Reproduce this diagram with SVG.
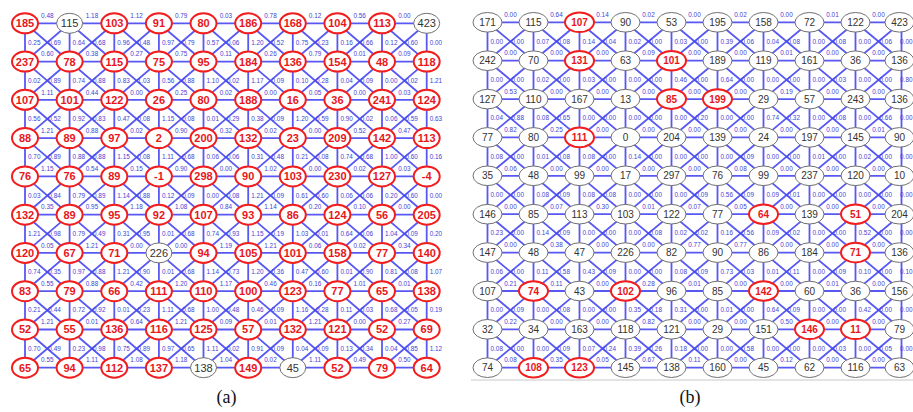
<svg xmlns="http://www.w3.org/2000/svg" width="913" height="412" viewBox="0 0 913 412">
<style>
.e{fill:none;stroke:#4646f2;stroke-width:1.8;stroke-opacity:0.9}
.n use{fill:#fff}
.ra use,.rb use{stroke:#f21d1d;stroke-width:2}
.ga use,.gb use{stroke:#707070;stroke-width:1}
.n text{font-family:"Liberation Sans",Arial,sans-serif;text-anchor:middle}
.ra text,.ga text{font-size:11px}
.rb text,.gb text{font-size:10px}
.ra text,.rb text{fill:#e8161b;font-weight:bold}
.ga text,.gb text{fill:#333}
.l{font-family:"Liberation Sans",Arial,sans-serif;font-size:6.4px;fill:#4343d6}
.h{text-anchor:middle}
.cap{font-family:"Liberation Serif","Times New Roman",serif;font-size:18px;fill:#111;text-anchor:middle}
</style>
<defs>
<ellipse id="ea" rx="13" ry="10"/>
<ellipse id="eb" rx="14.5" ry="9.8"/>
</defs>
<rect width="913" height="412" fill="#fff"/>
<line x1="471" y1="380" x2="913" y2="380" stroke="#c8c8c8" stroke-width="1"/>
<g id="connectors">
<path class="e" d="M25 23.3H426.7M25 61.6H426.7M25 99.8H426.7M25 138.1H426.7M25 176.4H426.7M25 214.7H426.7M25 252.9H426.7M25 291.2H426.7M25 329.5H426.7M25 367.7H426.7"/>
<path class="e" d="M25 23.3V367.7M69.6 23.3V367.7M114.3 23.3V367.7M158.9 23.3V367.7M203.5 23.3V367.7M248.2 23.3V367.7M292.8 23.3V367.7M337.4 23.3V367.7M382 23.3V367.7M426.7 23.3V367.7"/>
<path class="e" d="M25 23.3L426.7 367.7M69.6 23.3L426.7 329.5M114.3 23.3L426.7 291.2M158.9 23.3L426.7 252.9M203.5 23.3L426.7 214.7M248.2 23.3L426.7 176.4M292.8 23.3L426.7 138.1M337.4 23.3L426.7 99.8M382 23.3L426.7 61.6M25 61.6L382 367.7M25 99.8L337.4 367.7M25 138.1L292.8 367.7M25 176.4L248.2 367.7M25 214.7L203.5 367.7M25 252.9L158.9 367.7M25 291.2L114.3 367.7M25 329.5L69.6 367.7"/>
<path class="e" d="M69.6 23.3L25 61.6M114.3 23.3L25 99.8M158.9 23.3L25 138.1M203.5 23.3L25 176.4M248.2 23.3L25 214.7M292.8 23.3L25 252.9M337.4 23.3L25 291.2M382 23.3L25 329.5M426.7 23.3L25 367.7M426.7 61.6L69.6 367.7M426.7 99.8L114.3 367.7M426.7 138.1L158.9 367.7M426.7 176.4L203.5 367.7M426.7 214.7L248.2 367.7M426.7 252.9L292.8 367.7M426.7 291.2L337.4 367.7M426.7 329.5L382 367.7"/>
<path class="e" d="M487.5 22.3H901.5M487.5 60.7H901.5M487.5 99.1H901.5M487.5 137.4H901.5M487.5 175.8H901.5M487.5 214.2H901.5M487.5 252.6H901.5M487.5 291H901.5M487.5 329.3H901.5M487.5 367.7H901.5"/>
<path class="e" d="M487.5 22.3V367.7M533.5 22.3V367.7M579.5 22.3V367.7M625.5 22.3V367.7M671.5 22.3V367.7M717.5 22.3V367.7M763.5 22.3V367.7M809.5 22.3V367.7M855.5 22.3V367.7M901.5 22.3V367.7"/>
<path class="e" d="M487.5 22.3L901.5 367.7M533.5 22.3L901.5 329.3M579.5 22.3L901.5 291M625.5 22.3L901.5 252.6M671.5 22.3L901.5 214.2M717.5 22.3L901.5 175.8M763.5 22.3L901.5 137.4M809.5 22.3L901.5 99.1M855.5 22.3L901.5 60.7M487.5 60.7L855.5 367.7M487.5 99.1L809.5 367.7M487.5 137.4L763.5 367.7M487.5 175.8L717.5 367.7M487.5 214.2L671.5 367.7M487.5 252.6L625.5 367.7M487.5 291L579.5 367.7M487.5 329.3L533.5 367.7"/>
<path class="e" d="M533.5 22.3L487.5 60.7M579.5 22.3L487.5 99.1M625.5 22.3L487.5 137.4M671.5 22.3L487.5 175.8M717.5 22.3L487.5 214.2M763.5 22.3L487.5 252.6M809.5 22.3L487.5 291M855.5 22.3L487.5 329.3M901.5 22.3L487.5 367.7M901.5 60.7L533.5 367.7M901.5 99.1L579.5 367.7M901.5 137.4L625.5 367.7M901.5 175.8L671.5 367.7M901.5 214.2L717.5 367.7M901.5 252.6L763.5 367.7M901.5 291L809.5 367.7M901.5 329.3L855.5 367.7"/>
</g>
<g id="labels-a">
<text class="l h" y="18"><tspan x="47.3">0.48</tspan><tspan x="92">1.18</tspan><tspan x="136.6">1.12</tspan><tspan x="181.2">0.79</tspan><tspan x="225.9">0.03</tspan><tspan x="270.5">0.78</tspan><tspan x="315.1">0.12</tspan><tspan x="359.7">0.56</tspan><tspan x="404.4">0.00</tspan></text>
<text class="l h" y="56.3"><tspan x="47.3">0.60</tspan><tspan x="92">0.38</tspan><tspan x="136.6">0.27</tspan><tspan x="181.2">0.75</tspan><tspan x="225.9">0.11</tspan><tspan x="270.5">0.26</tspan><tspan x="315.1">0.79</tspan><tspan x="359.7">0.01</tspan><tspan x="404.4">0.09</tspan></text>
<text class="l h" y="94.5"><tspan x="47.3">1.11</tspan><tspan x="92">0.44</tspan><tspan x="136.6">0.00</tspan><tspan x="181.2">0.25</tspan><tspan x="225.9">0.02</tspan><tspan x="270.5">0.00</tspan><tspan x="315.1">0.05</tspan><tspan x="359.7">0.00</tspan><tspan x="404.4">0.03</tspan></text>
<text class="l h" y="132.8"><tspan x="47.3">1.21</tspan><tspan x="92">0.88</tspan><tspan x="136.6">0.02</tspan><tspan x="181.2">0.90</tspan><tspan x="225.9">0.32</tspan><tspan x="270.5">0.02</tspan><tspan x="315.1">0.00</tspan><tspan x="359.7">0.52</tspan><tspan x="404.4">0.47</tspan></text>
<text class="l h" y="171.1"><tspan x="47.3">1.15</tspan><tspan x="92">0.54</tspan><tspan x="136.6">0.15</tspan><tspan x="181.2">0.90</tspan><tspan x="225.9">0.00</tspan><tspan x="270.5">1.02</tspan><tspan x="315.1">0.00</tspan><tspan x="359.7">0.02</tspan><tspan x="404.4">0.03</tspan></text>
<text class="l h" y="209.4"><tspan x="47.3">0.35</tspan><tspan x="92">0.95</tspan><tspan x="136.6">1.18</tspan><tspan x="181.2">1.08</tspan><tspan x="225.9">0.84</tspan><tspan x="270.5">1.14</tspan><tspan x="315.1">0.20</tspan><tspan x="359.7">0.10</tspan><tspan x="404.4">0.00</tspan></text>
<text class="l h" y="247.6"><tspan x="47.3">0.05</tspan><tspan x="92">1.21</tspan><tspan x="136.6">0.00</tspan><tspan x="181.2">0.00</tspan><tspan x="225.9">1.19</tspan><tspan x="270.5">1.21</tspan><tspan x="315.1">0.06</tspan><tspan x="359.7">0.02</tspan><tspan x="404.4">0.34</tspan></text>
<text class="l h" y="285.9"><tspan x="47.3">0.55</tspan><tspan x="92">0.88</tspan><tspan x="136.6">0.42</tspan><tspan x="181.2">1.20</tspan><tspan x="225.9">1.17</tspan><tspan x="270.5">0.46</tspan><tspan x="315.1">0.16</tspan><tspan x="359.7">1.01</tspan><tspan x="404.4">0.01</tspan></text>
<text class="l h" y="324.2"><tspan x="47.3">1.21</tspan><tspan x="92">0.01</tspan><tspan x="136.6">0.64</tspan><tspan x="181.2">1.21</tspan><tspan x="225.9">0.09</tspan><tspan x="270.5">0.01</tspan><tspan x="315.1">1.21</tspan><tspan x="359.7">0.00</tspan><tspan x="404.4">0.27</tspan></text>
<text class="l h" y="362.4"><tspan x="47.3">0.55</tspan><tspan x="92">1.11</tspan><tspan x="136.6">1.08</tspan><tspan x="181.2">1.18</tspan><tspan x="225.9">1.04</tspan><tspan x="270.5">0.02</tspan><tspan x="315.1">1.11</tspan><tspan x="359.7">0.49</tspan><tspan x="404.4">0.50</tspan></text>
<text class="l" y="44.5"><tspan x="28">0.25</tspan><tspan x="48.3">0.69</tspan><tspan x="72.6">0.64</tspan><tspan x="93">0.68</tspan><tspan x="117.3">0.96</tspan><tspan x="137.6">0.48</tspan><tspan x="161.9">0.97</tspan><tspan x="182.2">0.79</tspan><tspan x="206.5">0.57</tspan><tspan x="226.9">0.06</tspan><tspan x="251.2">1.20</tspan><tspan x="271.5">0.52</tspan><tspan x="295.8">0.75</tspan><tspan x="316.1">0.23</tspan><tspan x="340.4">0.16</tspan><tspan x="360.7">0.66</tspan><tspan x="385">0.12</tspan><tspan x="405.4">0.60</tspan><tspan x="429.7">0.00</tspan></text>
<text class="l" y="82.7"><tspan x="28">0.02</tspan><tspan x="48.3">0.89</tspan><tspan x="72.6">0.74</tspan><tspan x="93">0.88</tspan><tspan x="117.3">0.83</tspan><tspan x="137.6">1.03</tspan><tspan x="161.9">0.56</tspan><tspan x="182.2">0.88</tspan><tspan x="206.5">1.10</tspan><tspan x="226.9">0.02</tspan><tspan x="251.2">1.17</tspan><tspan x="271.5">0.09</tspan><tspan x="295.8">0.10</tspan><tspan x="316.1">0.28</tspan><tspan x="340.4">0.04</tspan><tspan x="360.7">0.09</tspan><tspan x="385">0.00</tspan><tspan x="405.4">0.02</tspan><tspan x="429.7">1.21</tspan></text>
<text class="l" y="121"><tspan x="28">0.56</tspan><tspan x="48.3">0.52</tspan><tspan x="72.6">0.92</tspan><tspan x="93">0.83</tspan><tspan x="117.3">0.47</tspan><tspan x="137.6">0.08</tspan><tspan x="161.9">1.15</tspan><tspan x="182.2">0.08</tspan><tspan x="206.5">0.01</tspan><tspan x="226.9">0.29</tspan><tspan x="251.2">0.38</tspan><tspan x="271.5">0.09</tspan><tspan x="295.8">1.20</tspan><tspan x="316.1">0.59</tspan><tspan x="340.4">0.90</tspan><tspan x="360.7">0.02</tspan><tspan x="385">0.06</tspan><tspan x="405.4">0.59</tspan><tspan x="429.7">0.63</tspan></text>
<text class="l" y="159.3"><tspan x="28">0.70</tspan><tspan x="48.3">0.89</tspan><tspan x="72.6">0.88</tspan><tspan x="93">0.88</tspan><tspan x="117.3">1.15</tspan><tspan x="137.6">0.08</tspan><tspan x="161.9">1.11</tspan><tspan x="182.2">0.68</tspan><tspan x="206.5">0.06</tspan><tspan x="226.9">0.06</tspan><tspan x="251.2">0.31</tspan><tspan x="271.5">0.48</tspan><tspan x="295.8">0.21</tspan><tspan x="316.1">0.08</tspan><tspan x="340.4">0.74</tspan><tspan x="360.7">0.68</tspan><tspan x="385">1.00</tspan><tspan x="405.4">0.60</tspan><tspan x="429.7">0.16</tspan></text>
<text class="l" y="197.6"><tspan x="28">0.03</tspan><tspan x="48.3">0.84</tspan><tspan x="72.6">0.79</tspan><tspan x="93">0.89</tspan><tspan x="117.3">1.14</tspan><tspan x="137.6">0.88</tspan><tspan x="161.9">0.12</tspan><tspan x="182.2">0.09</tspan><tspan x="206.5">0.00</tspan><tspan x="226.9">0.08</tspan><tspan x="251.2">1.21</tspan><tspan x="271.5">0.09</tspan><tspan x="295.8">0.61</tspan><tspan x="316.1">0.60</tspan><tspan x="340.4">0.06</tspan><tspan x="360.7">0.06</tspan><tspan x="385">0.20</tspan><tspan x="405.4">0.60</tspan><tspan x="429.7">0.00</tspan></text>
<text class="l" y="235.8"><tspan x="28">1.21</tspan><tspan x="48.3">0.98</tspan><tspan x="72.6">0.79</tspan><tspan x="93">0.49</tspan><tspan x="117.3">0.31</tspan><tspan x="137.6">0.95</tspan><tspan x="161.9">0.01</tspan><tspan x="182.2">0.68</tspan><tspan x="206.5">0.74</tspan><tspan x="226.9">0.93</tspan><tspan x="251.2">1.15</tspan><tspan x="271.5">0.19</tspan><tspan x="295.8">1.03</tspan><tspan x="316.1">0.01</tspan><tspan x="340.4">0.64</tspan><tspan x="360.7">0.06</tspan><tspan x="385">1.04</tspan><tspan x="405.4">0.09</tspan><tspan x="429.7">0.20</tspan></text>
<text class="l" y="274"><tspan x="28">0.74</tspan><tspan x="48.3">0.35</tspan><tspan x="72.6">0.97</tspan><tspan x="93">0.88</tspan><tspan x="117.3">1.21</tspan><tspan x="137.6">0.90</tspan><tspan x="161.9">0.01</tspan><tspan x="182.2">0.68</tspan><tspan x="206.5">1.14</tspan><tspan x="226.9">0.73</tspan><tspan x="251.2">1.20</tspan><tspan x="271.5">0.36</tspan><tspan x="295.8">0.47</tspan><tspan x="316.1">0.60</tspan><tspan x="340.4">0.01</tspan><tspan x="360.7">0.90</tspan><tspan x="385">0.81</tspan><tspan x="405.4">0.08</tspan><tspan x="429.7">1.07</tspan></text>
<text class="l" y="312.4"><tspan x="28">0.21</tspan><tspan x="48.3">0.44</tspan><tspan x="72.6">0.72</tspan><tspan x="93">0.92</tspan><tspan x="117.3">0.01</tspan><tspan x="137.6">0.23</tspan><tspan x="161.9">1.11</tspan><tspan x="182.2">0.68</tspan><tspan x="206.5">1.00</tspan><tspan x="226.9">0.48</tspan><tspan x="251.2">0.46</tspan><tspan x="271.5">0.09</tspan><tspan x="295.8">1.16</tspan><tspan x="316.1">0.28</tspan><tspan x="340.4">0.11</tspan><tspan x="360.7">0.03</tspan><tspan x="385">0.68</tspan><tspan x="405.4">0.05</tspan><tspan x="429.7">0.19</tspan></text>
<text class="l" y="350.6"><tspan x="28">0.70</tspan><tspan x="48.3">0.49</tspan><tspan x="72.6">0.23</tspan><tspan x="93">0.98</tspan><tspan x="117.3">0.75</tspan><tspan x="137.6">0.89</tspan><tspan x="161.9">0.97</tspan><tspan x="182.2">0.65</tspan><tspan x="206.5">1.11</tspan><tspan x="226.9">0.02</tspan><tspan x="251.2">0.91</tspan><tspan x="271.5">0.09</tspan><tspan x="295.8">0.04</tspan><tspan x="316.1">0.09</tspan><tspan x="340.4">0.13</tspan><tspan x="360.7">0.34</tspan><tspan x="385">0.04</tspan><tspan x="405.4">0.85</tspan><tspan x="429.7">1.12</tspan></text>
</g>
<g id="labels-b">
<text class="l h" y="17"><tspan x="510.5">0.00</tspan><tspan x="556.5">0.64</tspan><tspan x="602.5">0.14</tspan><tspan x="648.5">0.02</tspan><tspan x="694.5">0.00</tspan><tspan x="740.5">0.02</tspan><tspan x="786.5">0.00</tspan><tspan x="832.5">0.01</tspan><tspan x="878.5">0.00</tspan></text>
<text class="l h" y="55.4"><tspan x="510.5">0.00</tspan><tspan x="556.5">0.00</tspan><tspan x="602.5">0.00</tspan><tspan x="648.5">0.09</tspan><tspan x="694.5">0.00</tspan><tspan x="740.5">0.00</tspan><tspan x="786.5">0.01</tspan><tspan x="832.5">0.00</tspan><tspan x="878.5">0.00</tspan></text>
<text class="l h" y="93.8"><tspan x="510.5">0.53</tspan><tspan x="556.5">0.00</tspan><tspan x="602.5">0.00</tspan><tspan x="648.5">0.00</tspan><tspan x="694.5">0.00</tspan><tspan x="740.5">0.00</tspan><tspan x="786.5">0.19</tspan><tspan x="832.5">0.00</tspan><tspan x="878.5">0.00</tspan></text>
<text class="l h" y="132.1"><tspan x="510.5">0.82</tspan><tspan x="556.5">0.25</tspan><tspan x="602.5">0.00</tspan><tspan x="648.5">0.00</tspan><tspan x="694.5">0.00</tspan><tspan x="740.5">0.00</tspan><tspan x="786.5">0.00</tspan><tspan x="832.5">0.00</tspan><tspan x="878.5">0.01</tspan></text>
<text class="l h" y="170.5"><tspan x="510.5">0.06</tspan><tspan x="556.5">0.00</tspan><tspan x="602.5">0.00</tspan><tspan x="648.5">0.00</tspan><tspan x="694.5">0.00</tspan><tspan x="740.5">0.08</tspan><tspan x="786.5">0.00</tspan><tspan x="832.5">0.00</tspan><tspan x="878.5">0.00</tspan></text>
<text class="l h" y="208.9"><tspan x="510.5">0.00</tspan><tspan x="556.5">0.07</tspan><tspan x="602.5">0.30</tspan><tspan x="648.5">0.01</tspan><tspan x="694.5">0.07</tspan><tspan x="740.5">0.05</tspan><tspan x="786.5">0.00</tspan><tspan x="832.5">0.00</tspan><tspan x="878.5">0.00</tspan></text>
<text class="l h" y="247.3"><tspan x="510.5">0.00</tspan><tspan x="556.5">0.38</tspan><tspan x="602.5">0.00</tspan><tspan x="648.5">0.00</tspan><tspan x="694.5">0.77</tspan><tspan x="740.5">0.77</tspan><tspan x="786.5">0.00</tspan><tspan x="832.5">0.00</tspan><tspan x="878.5">0.00</tspan></text>
<text class="l h" y="285.7"><tspan x="510.5">0.21</tspan><tspan x="556.5">0.11</tspan><tspan x="602.5">0.00</tspan><tspan x="648.5">0.28</tspan><tspan x="694.5">0.01</tspan><tspan x="740.5">0.00</tspan><tspan x="786.5">0.00</tspan><tspan x="832.5">0.01</tspan><tspan x="878.5">0.00</tspan></text>
<text class="l h" y="324"><tspan x="510.5">0.22</tspan><tspan x="556.5">0.00</tspan><tspan x="602.5">0.00</tspan><tspan x="648.5">0.82</tspan><tspan x="694.5">0.00</tspan><tspan x="740.5">0.00</tspan><tspan x="786.5">0.50</tspan><tspan x="832.5">0.00</tspan><tspan x="878.5">0.00</tspan></text>
<text class="l h" y="362.4"><tspan x="510.5">0.08</tspan><tspan x="556.5">0.35</tspan><tspan x="602.5">0.05</tspan><tspan x="648.5">0.67</tspan><tspan x="694.5">0.11</tspan><tspan x="740.5">0.00</tspan><tspan x="786.5">0.12</tspan><tspan x="832.5">0.00</tspan><tspan x="878.5">0.00</tspan></text>
<text class="l" y="43.5"><tspan x="490.5">0.00</tspan><tspan x="511.5">0.00</tspan><tspan x="536.5">0.07</tspan><tspan x="557.5">0.08</tspan><tspan x="582.5">0.14</tspan><tspan x="603.5">0.04</tspan><tspan x="628.5">0.02</tspan><tspan x="649.5">0.00</tspan><tspan x="674.5">0.03</tspan><tspan x="695.5">0.00</tspan><tspan x="720.5">0.39</tspan><tspan x="741.5">0.06</tspan><tspan x="766.5">0.04</tspan><tspan x="787.5">0.08</tspan><tspan x="812.5">0.00</tspan><tspan x="833.5">0.08</tspan><tspan x="858.5">0.00</tspan><tspan x="879.5">0.06</tspan></text>
<text class="l" y="81.9"><tspan x="490.5">0.00</tspan><tspan x="511.5">0.00</tspan><tspan x="536.5">0.02</tspan><tspan x="557.5">0.00</tspan><tspan x="582.5">0.03</tspan><tspan x="603.5">0.00</tspan><tspan x="628.5">0.00</tspan><tspan x="649.5">0.00</tspan><tspan x="674.5">0.46</tspan><tspan x="695.5">0.00</tspan><tspan x="720.5">0.64</tspan><tspan x="741.5">0.00</tspan><tspan x="766.5">0.00</tspan><tspan x="787.5">0.00</tspan><tspan x="812.5">0.00</tspan><tspan x="833.5">0.03</tspan><tspan x="858.5">0.00</tspan><tspan x="879.5">0.00</tspan></text>
<text class="l" y="120.3"><tspan x="490.5">0.04</tspan><tspan x="511.5">0.88</tspan><tspan x="536.5">0.08</tspan><tspan x="557.5">0.65</tspan><tspan x="582.5">0.00</tspan><tspan x="603.5">0.00</tspan><tspan x="628.5">0.00</tspan><tspan x="649.5">0.00</tspan><tspan x="674.5">0.00</tspan><tspan x="695.5">0.20</tspan><tspan x="720.5">0.00</tspan><tspan x="741.5">0.00</tspan><tspan x="766.5">0.74</tspan><tspan x="787.5">0.32</tspan><tspan x="812.5">0.00</tspan><tspan x="833.5">0.08</tspan><tspan x="858.5">0.00</tspan><tspan x="879.5">0.66</tspan></text>
<text class="l" y="158.6"><tspan x="490.5">0.08</tspan><tspan x="511.5">0.00</tspan><tspan x="536.5">0.01</tspan><tspan x="557.5">0.08</tspan><tspan x="582.5">0.08</tspan><tspan x="603.5">0.00</tspan><tspan x="628.5">0.14</tspan><tspan x="649.5">0.00</tspan><tspan x="674.5">0.00</tspan><tspan x="695.5">0.00</tspan><tspan x="720.5">0.00</tspan><tspan x="741.5">0.09</tspan><tspan x="766.5">0.00</tspan><tspan x="787.5">0.00</tspan><tspan x="812.5">0.01</tspan><tspan x="833.5">0.00</tspan><tspan x="858.5">0.02</tspan><tspan x="879.5">0.00</tspan></text>
<text class="l" y="197"><tspan x="490.5">0.00</tspan><tspan x="511.5">0.00</tspan><tspan x="536.5">0.08</tspan><tspan x="557.5">0.09</tspan><tspan x="582.5">0.08</tspan><tspan x="603.5">0.08</tspan><tspan x="628.5">0.00</tspan><tspan x="649.5">0.00</tspan><tspan x="674.5">0.00</tspan><tspan x="695.5">0.09</tspan><tspan x="720.5">0.56</tspan><tspan x="741.5">0.09</tspan><tspan x="766.5">0.09</tspan><tspan x="787.5">0.01</tspan><tspan x="812.5">0.00</tspan><tspan x="833.5">0.00</tspan><tspan x="858.5">0.00</tspan><tspan x="879.5">0.00</tspan></text>
<text class="l" y="235.4"><tspan x="490.5">0.23</tspan><tspan x="511.5">0.00</tspan><tspan x="536.5">0.14</tspan><tspan x="557.5">0.09</tspan><tspan x="582.5">0.00</tspan><tspan x="603.5">0.00</tspan><tspan x="628.5">0.00</tspan><tspan x="649.5">0.08</tspan><tspan x="674.5">0.02</tspan><tspan x="695.5">0.02</tspan><tspan x="720.5">0.16</tspan><tspan x="741.5">0.56</tspan><tspan x="766.5">0.09</tspan><tspan x="787.5">0.02</tspan><tspan x="812.5">0.00</tspan><tspan x="833.5">0.00</tspan><tspan x="858.5">0.52</tspan><tspan x="879.5">0.00</tspan></text>
<text class="l" y="273.8"><tspan x="490.5">0.06</tspan><tspan x="511.5">0.00</tspan><tspan x="536.5">0.11</tspan><tspan x="557.5">0.58</tspan><tspan x="582.5">0.43</tspan><tspan x="603.5">0.09</tspan><tspan x="628.5">0.00</tspan><tspan x="649.5">0.00</tspan><tspan x="674.5">0.08</tspan><tspan x="695.5">0.09</tspan><tspan x="720.5">0.73</tspan><tspan x="741.5">0.03</tspan><tspan x="766.5">0.01</tspan><tspan x="787.5">0.11</tspan><tspan x="812.5">0.00</tspan><tspan x="833.5">0.09</tspan><tspan x="858.5">0.10</tspan><tspan x="879.5">0.00</tspan></text>
<text class="l" y="312.2"><tspan x="490.5">0.00</tspan><tspan x="511.5">0.09</tspan><tspan x="536.5">0.00</tspan><tspan x="557.5">0.08</tspan><tspan x="582.5">0.00</tspan><tspan x="603.5">0.00</tspan><tspan x="628.5">0.35</tspan><tspan x="649.5">0.18</tspan><tspan x="674.5">0.31</tspan><tspan x="695.5">0.00</tspan><tspan x="720.5">0.01</tspan><tspan x="741.5">0.00</tspan><tspan x="766.5">0.64</tspan><tspan x="787.5">0.09</tspan><tspan x="812.5">0.00</tspan><tspan x="833.5">0.00</tspan><tspan x="858.5">0.42</tspan><tspan x="879.5">0.00</tspan></text>
<text class="l" y="350.5"><tspan x="490.5">0.08</tspan><tspan x="511.5">0.00</tspan><tspan x="536.5">0.00</tspan><tspan x="557.5">0.09</tspan><tspan x="582.5">0.07</tspan><tspan x="603.5">0.24</tspan><tspan x="628.5">0.39</tspan><tspan x="649.5">0.26</tspan><tspan x="674.5">0.18</tspan><tspan x="695.5">0.00</tspan><tspan x="720.5">0.00</tspan><tspan x="741.5">0.58</tspan><tspan x="766.5">0.00</tspan><tspan x="787.5">0.00</tspan><tspan x="812.5">0.00</tspan><tspan x="833.5">0.03</tspan><tspan x="858.5">0.00</tspan><tspan x="879.5">0.05</tspan></text>
<text class="l" text-anchor="end" x="912.5"><tspan x="912.5" y="43.5">0.00</tspan><tspan x="912.5" y="81.9">0.80</tspan><tspan x="912.5" y="120.3">0.00</tspan><tspan x="912.5" y="158.6">0.00</tspan><tspan x="912.5" y="197">0.00</tspan><tspan x="912.5" y="235.4">0.00</tspan><tspan x="912.5" y="273.8">0.10</tspan><tspan x="912.5" y="312.2">0.00</tspan><tspan x="912.5" y="350.5">0.00</tspan></text>
</g>
<g id="nodes-a">
<g id="a0-0" class="n ra" transform="translate(25 23.3)"><use href="#ea"/><text y="3.9">185</text></g>
<g id="a0-1" class="n ga" transform="translate(69.6 23.3)"><use href="#ea"/><text y="3.9">115</text></g>
<g id="a0-2" class="n ra" transform="translate(114.3 23.3)"><use href="#ea"/><text y="3.9">103</text></g>
<g id="a0-3" class="n ra" transform="translate(158.9 23.3)"><use href="#ea"/><text y="3.9">91</text></g>
<g id="a0-4" class="n ra" transform="translate(203.5 23.3)"><use href="#ea"/><text y="3.9">80</text></g>
<g id="a0-5" class="n ra" transform="translate(248.2 23.3)"><use href="#ea"/><text y="3.9">186</text></g>
<g id="a0-6" class="n ra" transform="translate(292.8 23.3)"><use href="#ea"/><text y="3.9">168</text></g>
<g id="a0-7" class="n ra" transform="translate(337.4 23.3)"><use href="#ea"/><text y="3.9">104</text></g>
<g id="a0-8" class="n ra" transform="translate(382 23.3)"><use href="#ea"/><text y="3.9">113</text></g>
<g id="a0-9" class="n ga" transform="translate(426.7 23.3)"><use href="#ea"/><text y="3.9">423</text></g>
<g id="a1-0" class="n ra" transform="translate(25 61.6)"><use href="#ea"/><text y="3.9">237</text></g>
<g id="a1-1" class="n ra" transform="translate(69.6 61.6)"><use href="#ea"/><text y="3.9">78</text></g>
<g id="a1-2" class="n ra" transform="translate(114.3 61.6)"><use href="#ea"/><text y="3.9">115</text></g>
<g id="a1-3" class="n ra" transform="translate(158.9 61.6)"><use href="#ea"/><text y="3.9">75</text></g>
<g id="a1-4" class="n ra" transform="translate(203.5 61.6)"><use href="#ea"/><text y="3.9">95</text></g>
<g id="a1-5" class="n ra" transform="translate(248.2 61.6)"><use href="#ea"/><text y="3.9">184</text></g>
<g id="a1-6" class="n ra" transform="translate(292.8 61.6)"><use href="#ea"/><text y="3.9">136</text></g>
<g id="a1-7" class="n ra" transform="translate(337.4 61.6)"><use href="#ea"/><text y="3.9">154</text></g>
<g id="a1-8" class="n ra" transform="translate(382 61.6)"><use href="#ea"/><text y="3.9">48</text></g>
<g id="a1-9" class="n ra" transform="translate(426.7 61.6)"><use href="#ea"/><text y="3.9">118</text></g>
<g id="a2-0" class="n ra" transform="translate(25 99.8)"><use href="#ea"/><text y="3.9">107</text></g>
<g id="a2-1" class="n ra" transform="translate(69.6 99.8)"><use href="#ea"/><text y="3.9">101</text></g>
<g id="a2-2" class="n ra" transform="translate(114.3 99.8)"><use href="#ea"/><text y="3.9">122</text></g>
<g id="a2-3" class="n ra" transform="translate(158.9 99.8)"><use href="#ea"/><text y="3.9">26</text></g>
<g id="a2-4" class="n ra" transform="translate(203.5 99.8)"><use href="#ea"/><text y="3.9">80</text></g>
<g id="a2-5" class="n ra" transform="translate(248.2 99.8)"><use href="#ea"/><text y="3.9">188</text></g>
<g id="a2-6" class="n ra" transform="translate(292.8 99.8)"><use href="#ea"/><text y="3.9">16</text></g>
<g id="a2-7" class="n ra" transform="translate(337.4 99.8)"><use href="#ea"/><text y="3.9">36</text></g>
<g id="a2-8" class="n ra" transform="translate(382 99.8)"><use href="#ea"/><text y="3.9">241</text></g>
<g id="a2-9" class="n ra" transform="translate(426.7 99.8)"><use href="#ea"/><text y="3.9">124</text></g>
<g id="a3-0" class="n ra" transform="translate(25 138.1)"><use href="#ea"/><text y="3.9">88</text></g>
<g id="a3-1" class="n ra" transform="translate(69.6 138.1)"><use href="#ea"/><text y="3.9">89</text></g>
<g id="a3-2" class="n ra" transform="translate(114.3 138.1)"><use href="#ea"/><text y="3.9">97</text></g>
<g id="a3-3" class="n ra" transform="translate(158.9 138.1)"><use href="#ea"/><text y="3.9">2</text></g>
<g id="a3-4" class="n ra" transform="translate(203.5 138.1)"><use href="#ea"/><text y="3.9">200</text></g>
<g id="a3-5" class="n ra" transform="translate(248.2 138.1)"><use href="#ea"/><text y="3.9">132</text></g>
<g id="a3-6" class="n ra" transform="translate(292.8 138.1)"><use href="#ea"/><text y="3.9">23</text></g>
<g id="a3-7" class="n ra" transform="translate(337.4 138.1)"><use href="#ea"/><text y="3.9">209</text></g>
<g id="a3-8" class="n ra" transform="translate(382 138.1)"><use href="#ea"/><text y="3.9">142</text></g>
<g id="a3-9" class="n ra" transform="translate(426.7 138.1)"><use href="#ea"/><text y="3.9">113</text></g>
<g id="a4-0" class="n ra" transform="translate(25 176.4)"><use href="#ea"/><text y="3.9">76</text></g>
<g id="a4-1" class="n ra" transform="translate(69.6 176.4)"><use href="#ea"/><text y="3.9">76</text></g>
<g id="a4-2" class="n ra" transform="translate(114.3 176.4)"><use href="#ea"/><text y="3.9">89</text></g>
<g id="a4-3" class="n ra" transform="translate(158.9 176.4)"><use href="#ea"/><text y="3.9">-1</text></g>
<g id="a4-4" class="n ra" transform="translate(203.5 176.4)"><use href="#ea"/><text y="3.9">298</text></g>
<g id="a4-5" class="n ra" transform="translate(248.2 176.4)"><use href="#ea"/><text y="3.9">90</text></g>
<g id="a4-6" class="n ra" transform="translate(292.8 176.4)"><use href="#ea"/><text y="3.9">103</text></g>
<g id="a4-7" class="n ra" transform="translate(337.4 176.4)"><use href="#ea"/><text y="3.9">230</text></g>
<g id="a4-8" class="n ra" transform="translate(382 176.4)"><use href="#ea"/><text y="3.9">127</text></g>
<g id="a4-9" class="n ra" transform="translate(426.7 176.4)"><use href="#ea"/><text y="3.9">-4</text></g>
<g id="a5-0" class="n ra" transform="translate(25 214.7)"><use href="#ea"/><text y="3.9">132</text></g>
<g id="a5-1" class="n ra" transform="translate(69.6 214.7)"><use href="#ea"/><text y="3.9">89</text></g>
<g id="a5-2" class="n ra" transform="translate(114.3 214.7)"><use href="#ea"/><text y="3.9">95</text></g>
<g id="a5-3" class="n ra" transform="translate(158.9 214.7)"><use href="#ea"/><text y="3.9">92</text></g>
<g id="a5-4" class="n ra" transform="translate(203.5 214.7)"><use href="#ea"/><text y="3.9">107</text></g>
<g id="a5-5" class="n ra" transform="translate(248.2 214.7)"><use href="#ea"/><text y="3.9">93</text></g>
<g id="a5-6" class="n ra" transform="translate(292.8 214.7)"><use href="#ea"/><text y="3.9">86</text></g>
<g id="a5-7" class="n ra" transform="translate(337.4 214.7)"><use href="#ea"/><text y="3.9">124</text></g>
<g id="a5-8" class="n ra" transform="translate(382 214.7)"><use href="#ea"/><text y="3.9">56</text></g>
<g id="a5-9" class="n ra" transform="translate(426.7 214.7)"><use href="#ea"/><text y="3.9">205</text></g>
<g id="a6-0" class="n ra" transform="translate(25 252.9)"><use href="#ea"/><text y="3.9">120</text></g>
<g id="a6-1" class="n ra" transform="translate(69.6 252.9)"><use href="#ea"/><text y="3.9">67</text></g>
<g id="a6-2" class="n ra" transform="translate(114.3 252.9)"><use href="#ea"/><text y="3.9">71</text></g>
<g id="a6-3" class="n ga" transform="translate(158.9 252.9)"><use href="#ea"/><text y="3.9">226</text></g>
<g id="a6-4" class="n ra" transform="translate(203.5 252.9)"><use href="#ea"/><text y="3.9">94</text></g>
<g id="a6-5" class="n ra" transform="translate(248.2 252.9)"><use href="#ea"/><text y="3.9">105</text></g>
<g id="a6-6" class="n ra" transform="translate(292.8 252.9)"><use href="#ea"/><text y="3.9">101</text></g>
<g id="a6-7" class="n ra" transform="translate(337.4 252.9)"><use href="#ea"/><text y="3.9">158</text></g>
<g id="a6-8" class="n ra" transform="translate(382 252.9)"><use href="#ea"/><text y="3.9">77</text></g>
<g id="a6-9" class="n ra" transform="translate(426.7 252.9)"><use href="#ea"/><text y="3.9">140</text></g>
<g id="a7-0" class="n ra" transform="translate(25 291.2)"><use href="#ea"/><text y="3.9">83</text></g>
<g id="a7-1" class="n ra" transform="translate(69.6 291.2)"><use href="#ea"/><text y="3.9">79</text></g>
<g id="a7-2" class="n ra" transform="translate(114.3 291.2)"><use href="#ea"/><text y="3.9">66</text></g>
<g id="a7-3" class="n ra" transform="translate(158.9 291.2)"><use href="#ea"/><text y="3.9">111</text></g>
<g id="a7-4" class="n ra" transform="translate(203.5 291.2)"><use href="#ea"/><text y="3.9">110</text></g>
<g id="a7-5" class="n ra" transform="translate(248.2 291.2)"><use href="#ea"/><text y="3.9">100</text></g>
<g id="a7-6" class="n ra" transform="translate(292.8 291.2)"><use href="#ea"/><text y="3.9">123</text></g>
<g id="a7-7" class="n ra" transform="translate(337.4 291.2)"><use href="#ea"/><text y="3.9">77</text></g>
<g id="a7-8" class="n ra" transform="translate(382 291.2)"><use href="#ea"/><text y="3.9">65</text></g>
<g id="a7-9" class="n ra" transform="translate(426.7 291.2)"><use href="#ea"/><text y="3.9">138</text></g>
<g id="a8-0" class="n ra" transform="translate(25 329.5)"><use href="#ea"/><text y="3.9">52</text></g>
<g id="a8-1" class="n ra" transform="translate(69.6 329.5)"><use href="#ea"/><text y="3.9">55</text></g>
<g id="a8-2" class="n ra" transform="translate(114.3 329.5)"><use href="#ea"/><text y="3.9">136</text></g>
<g id="a8-3" class="n ra" transform="translate(158.9 329.5)"><use href="#ea"/><text y="3.9">116</text></g>
<g id="a8-4" class="n ra" transform="translate(203.5 329.5)"><use href="#ea"/><text y="3.9">125</text></g>
<g id="a8-5" class="n ra" transform="translate(248.2 329.5)"><use href="#ea"/><text y="3.9">57</text></g>
<g id="a8-6" class="n ra" transform="translate(292.8 329.5)"><use href="#ea"/><text y="3.9">132</text></g>
<g id="a8-7" class="n ra" transform="translate(337.4 329.5)"><use href="#ea"/><text y="3.9">121</text></g>
<g id="a8-8" class="n ra" transform="translate(382 329.5)"><use href="#ea"/><text y="3.9">52</text></g>
<g id="a8-9" class="n ra" transform="translate(426.7 329.5)"><use href="#ea"/><text y="3.9">69</text></g>
<g id="a9-0" class="n ra" transform="translate(25 367.7)"><use href="#ea"/><text y="3.9">65</text></g>
<g id="a9-1" class="n ra" transform="translate(69.6 367.7)"><use href="#ea"/><text y="3.9">94</text></g>
<g id="a9-2" class="n ra" transform="translate(114.3 367.7)"><use href="#ea"/><text y="3.9">112</text></g>
<g id="a9-3" class="n ra" transform="translate(158.9 367.7)"><use href="#ea"/><text y="3.9">137</text></g>
<g id="a9-4" class="n ga" transform="translate(203.5 367.7)"><use href="#ea"/><text y="3.9">138</text></g>
<g id="a9-5" class="n ra" transform="translate(248.2 367.7)"><use href="#ea"/><text y="3.9">149</text></g>
<g id="a9-6" class="n ga" transform="translate(292.8 367.7)"><use href="#ea"/><text y="3.9">45</text></g>
<g id="a9-7" class="n ra" transform="translate(337.4 367.7)"><use href="#ea"/><text y="3.9">52</text></g>
<g id="a9-8" class="n ra" transform="translate(382 367.7)"><use href="#ea"/><text y="3.9">79</text></g>
<g id="a9-9" class="n ra" transform="translate(426.7 367.7)"><use href="#ea"/><text y="3.9">64</text></g>
</g>
<g id="nodes-b">
<g id="b0-0" class="n gb" transform="translate(487.5 22.3)"><use href="#eb"/><text y="3.6">171</text></g>
<g id="b0-1" class="n gb" transform="translate(533.5 22.3)"><use href="#eb"/><text y="3.6">115</text></g>
<g id="b0-2" class="n rb" transform="translate(579.5 22.3)"><use href="#eb"/><text y="3.6">107</text></g>
<g id="b0-3" class="n gb" transform="translate(625.5 22.3)"><use href="#eb"/><text y="3.6">90</text></g>
<g id="b0-4" class="n gb" transform="translate(671.5 22.3)"><use href="#eb"/><text y="3.6">53</text></g>
<g id="b0-5" class="n gb" transform="translate(717.5 22.3)"><use href="#eb"/><text y="3.6">195</text></g>
<g id="b0-6" class="n gb" transform="translate(763.5 22.3)"><use href="#eb"/><text y="3.6">158</text></g>
<g id="b0-7" class="n gb" transform="translate(809.5 22.3)"><use href="#eb"/><text y="3.6">72</text></g>
<g id="b0-8" class="n gb" transform="translate(855.5 22.3)"><use href="#eb"/><text y="3.6">122</text></g>
<g id="b0-9" class="n gb" transform="translate(899.5 22.3)"><use href="#eb"/><text y="3.6">423</text></g>
<g id="b1-0" class="n gb" transform="translate(487.5 60.7)"><use href="#eb"/><text y="3.6">242</text></g>
<g id="b1-1" class="n gb" transform="translate(533.5 60.7)"><use href="#eb"/><text y="3.6">70</text></g>
<g id="b1-2" class="n rb" transform="translate(579.5 60.7)"><use href="#eb"/><text y="3.6">131</text></g>
<g id="b1-3" class="n gb" transform="translate(625.5 60.7)"><use href="#eb"/><text y="3.6">63</text></g>
<g id="b1-4" class="n rb" transform="translate(671.5 60.7)"><use href="#eb"/><text y="3.6">101</text></g>
<g id="b1-5" class="n gb" transform="translate(717.5 60.7)"><use href="#eb"/><text y="3.6">189</text></g>
<g id="b1-6" class="n gb" transform="translate(763.5 60.7)"><use href="#eb"/><text y="3.6">119</text></g>
<g id="b1-7" class="n gb" transform="translate(809.5 60.7)"><use href="#eb"/><text y="3.6">161</text></g>
<g id="b1-8" class="n gb" transform="translate(855.5 60.7)"><use href="#eb"/><text y="3.6">36</text></g>
<g id="b1-9" class="n gb" transform="translate(899.5 60.7)"><use href="#eb"/><text y="3.6">136</text></g>
<g id="b2-0" class="n gb" transform="translate(487.5 99.1)"><use href="#eb"/><text y="3.6">127</text></g>
<g id="b2-1" class="n gb" transform="translate(533.5 99.1)"><use href="#eb"/><text y="3.6">110</text></g>
<g id="b2-2" class="n gb" transform="translate(579.5 99.1)"><use href="#eb"/><text y="3.6">167</text></g>
<g id="b2-3" class="n gb" transform="translate(625.5 99.1)"><use href="#eb"/><text y="3.6">13</text></g>
<g id="b2-4" class="n rb" transform="translate(671.5 99.1)"><use href="#eb"/><text y="3.6">85</text></g>
<g id="b2-5" class="n rb" transform="translate(717.5 99.1)"><use href="#eb"/><text y="3.6">199</text></g>
<g id="b2-6" class="n gb" transform="translate(763.5 99.1)"><use href="#eb"/><text y="3.6">29</text></g>
<g id="b2-7" class="n gb" transform="translate(809.5 99.1)"><use href="#eb"/><text y="3.6">57</text></g>
<g id="b2-8" class="n gb" transform="translate(855.5 99.1)"><use href="#eb"/><text y="3.6">243</text></g>
<g id="b2-9" class="n gb" transform="translate(899.5 99.1)"><use href="#eb"/><text y="3.6">136</text></g>
<g id="b3-0" class="n gb" transform="translate(487.5 137.4)"><use href="#eb"/><text y="3.6">77</text></g>
<g id="b3-1" class="n gb" transform="translate(533.5 137.4)"><use href="#eb"/><text y="3.6">80</text></g>
<g id="b3-2" class="n rb" transform="translate(579.5 137.4)"><use href="#eb"/><text y="3.6">111</text></g>
<g id="b3-3" class="n gb" transform="translate(625.5 137.4)"><use href="#eb"/><text y="3.6">0</text></g>
<g id="b3-4" class="n gb" transform="translate(671.5 137.4)"><use href="#eb"/><text y="3.6">204</text></g>
<g id="b3-5" class="n gb" transform="translate(717.5 137.4)"><use href="#eb"/><text y="3.6">139</text></g>
<g id="b3-6" class="n gb" transform="translate(763.5 137.4)"><use href="#eb"/><text y="3.6">24</text></g>
<g id="b3-7" class="n gb" transform="translate(809.5 137.4)"><use href="#eb"/><text y="3.6">197</text></g>
<g id="b3-8" class="n gb" transform="translate(855.5 137.4)"><use href="#eb"/><text y="3.6">145</text></g>
<g id="b3-9" class="n gb" transform="translate(899.5 137.4)"><use href="#eb"/><text y="3.6">90</text></g>
<g id="b4-0" class="n gb" transform="translate(487.5 175.8)"><use href="#eb"/><text y="3.6">35</text></g>
<g id="b4-1" class="n gb" transform="translate(533.5 175.8)"><use href="#eb"/><text y="3.6">48</text></g>
<g id="b4-2" class="n gb" transform="translate(579.5 175.8)"><use href="#eb"/><text y="3.6">99</text></g>
<g id="b4-3" class="n gb" transform="translate(625.5 175.8)"><use href="#eb"/><text y="3.6">17</text></g>
<g id="b4-4" class="n gb" transform="translate(671.5 175.8)"><use href="#eb"/><text y="3.6">297</text></g>
<g id="b4-5" class="n gb" transform="translate(717.5 175.8)"><use href="#eb"/><text y="3.6">76</text></g>
<g id="b4-6" class="n gb" transform="translate(763.5 175.8)"><use href="#eb"/><text y="3.6">99</text></g>
<g id="b4-7" class="n gb" transform="translate(809.5 175.8)"><use href="#eb"/><text y="3.6">237</text></g>
<g id="b4-8" class="n gb" transform="translate(855.5 175.8)"><use href="#eb"/><text y="3.6">120</text></g>
<g id="b4-9" class="n gb" transform="translate(899.5 175.8)"><use href="#eb"/><text y="3.6">10</text></g>
<g id="b5-0" class="n gb" transform="translate(487.5 214.2)"><use href="#eb"/><text y="3.6">146</text></g>
<g id="b5-1" class="n gb" transform="translate(533.5 214.2)"><use href="#eb"/><text y="3.6">85</text></g>
<g id="b5-2" class="n gb" transform="translate(579.5 214.2)"><use href="#eb"/><text y="3.6">113</text></g>
<g id="b5-3" class="n gb" transform="translate(625.5 214.2)"><use href="#eb"/><text y="3.6">103</text></g>
<g id="b5-4" class="n gb" transform="translate(671.5 214.2)"><use href="#eb"/><text y="3.6">122</text></g>
<g id="b5-5" class="n gb" transform="translate(717.5 214.2)"><use href="#eb"/><text y="3.6">77</text></g>
<g id="b5-6" class="n rb" transform="translate(763.5 214.2)"><use href="#eb"/><text y="3.6">64</text></g>
<g id="b5-7" class="n gb" transform="translate(809.5 214.2)"><use href="#eb"/><text y="3.6">139</text></g>
<g id="b5-8" class="n rb" transform="translate(855.5 214.2)"><use href="#eb"/><text y="3.6">51</text></g>
<g id="b5-9" class="n gb" transform="translate(899.5 214.2)"><use href="#eb"/><text y="3.6">204</text></g>
<g id="b6-0" class="n gb" transform="translate(487.5 252.6)"><use href="#eb"/><text y="3.6">147</text></g>
<g id="b6-1" class="n gb" transform="translate(533.5 252.6)"><use href="#eb"/><text y="3.6">48</text></g>
<g id="b6-2" class="n gb" transform="translate(579.5 252.6)"><use href="#eb"/><text y="3.6">47</text></g>
<g id="b6-3" class="n gb" transform="translate(625.5 252.6)"><use href="#eb"/><text y="3.6">226</text></g>
<g id="b6-4" class="n gb" transform="translate(671.5 252.6)"><use href="#eb"/><text y="3.6">82</text></g>
<g id="b6-5" class="n gb" transform="translate(717.5 252.6)"><use href="#eb"/><text y="3.6">90</text></g>
<g id="b6-6" class="n gb" transform="translate(763.5 252.6)"><use href="#eb"/><text y="3.6">86</text></g>
<g id="b6-7" class="n gb" transform="translate(809.5 252.6)"><use href="#eb"/><text y="3.6">184</text></g>
<g id="b6-8" class="n rb" transform="translate(855.5 252.6)"><use href="#eb"/><text y="3.6">71</text></g>
<g id="b6-9" class="n gb" transform="translate(899.5 252.6)"><use href="#eb"/><text y="3.6">136</text></g>
<g id="b7-0" class="n gb" transform="translate(487.5 291)"><use href="#eb"/><text y="3.6">107</text></g>
<g id="b7-1" class="n rb" transform="translate(533.5 291)"><use href="#eb"/><text y="3.6">74</text></g>
<g id="b7-2" class="n gb" transform="translate(579.5 291)"><use href="#eb"/><text y="3.6">43</text></g>
<g id="b7-3" class="n rb" transform="translate(625.5 291)"><use href="#eb"/><text y="3.6">102</text></g>
<g id="b7-4" class="n gb" transform="translate(671.5 291)"><use href="#eb"/><text y="3.6">96</text></g>
<g id="b7-5" class="n gb" transform="translate(717.5 291)"><use href="#eb"/><text y="3.6">85</text></g>
<g id="b7-6" class="n rb" transform="translate(763.5 291)"><use href="#eb"/><text y="3.6">142</text></g>
<g id="b7-7" class="n gb" transform="translate(809.5 291)"><use href="#eb"/><text y="3.6">60</text></g>
<g id="b7-8" class="n gb" transform="translate(855.5 291)"><use href="#eb"/><text y="3.6">36</text></g>
<g id="b7-9" class="n gb" transform="translate(899.5 291)"><use href="#eb"/><text y="3.6">156</text></g>
<g id="b8-0" class="n gb" transform="translate(487.5 329.3)"><use href="#eb"/><text y="3.6">32</text></g>
<g id="b8-1" class="n gb" transform="translate(533.5 329.3)"><use href="#eb"/><text y="3.6">34</text></g>
<g id="b8-2" class="n gb" transform="translate(579.5 329.3)"><use href="#eb"/><text y="3.6">163</text></g>
<g id="b8-3" class="n gb" transform="translate(625.5 329.3)"><use href="#eb"/><text y="3.6">118</text></g>
<g id="b8-4" class="n gb" transform="translate(671.5 329.3)"><use href="#eb"/><text y="3.6">121</text></g>
<g id="b8-5" class="n gb" transform="translate(717.5 329.3)"><use href="#eb"/><text y="3.6">29</text></g>
<g id="b8-6" class="n gb" transform="translate(763.5 329.3)"><use href="#eb"/><text y="3.6">151</text></g>
<g id="b8-7" class="n rb" transform="translate(809.5 329.3)"><use href="#eb"/><text y="3.6">146</text></g>
<g id="b8-8" class="n rb" transform="translate(855.5 329.3)"><use href="#eb"/><text y="3.6">11</text></g>
<g id="b8-9" class="n gb" transform="translate(899.5 329.3)"><use href="#eb"/><text y="3.6">79</text></g>
<g id="b9-0" class="n gb" transform="translate(487.5 367.7)"><use href="#eb"/><text y="3.6">74</text></g>
<g id="b9-1" class="n rb" transform="translate(533.5 367.7)"><use href="#eb"/><text y="3.6">108</text></g>
<g id="b9-2" class="n rb" transform="translate(579.5 367.7)"><use href="#eb"/><text y="3.6">123</text></g>
<g id="b9-3" class="n gb" transform="translate(625.5 367.7)"><use href="#eb"/><text y="3.6">145</text></g>
<g id="b9-4" class="n gb" transform="translate(671.5 367.7)"><use href="#eb"/><text y="3.6">138</text></g>
<g id="b9-5" class="n gb" transform="translate(717.5 367.7)"><use href="#eb"/><text y="3.6">160</text></g>
<g id="b9-6" class="n gb" transform="translate(763.5 367.7)"><use href="#eb"/><text y="3.6">45</text></g>
<g id="b9-7" class="n gb" transform="translate(809.5 367.7)"><use href="#eb"/><text y="3.6">62</text></g>
<g id="b9-8" class="n gb" transform="translate(855.5 367.7)"><use href="#eb"/><text y="3.6">116</text></g>
<g id="b9-9" class="n gb" transform="translate(899.5 367.7)"><use href="#eb"/><text y="3.6">63</text></g>
</g>
<text class="cap" x="226.5" y="403">(a)</text>
<text class="cap" x="690" y="403">(b)</text>
</svg>
